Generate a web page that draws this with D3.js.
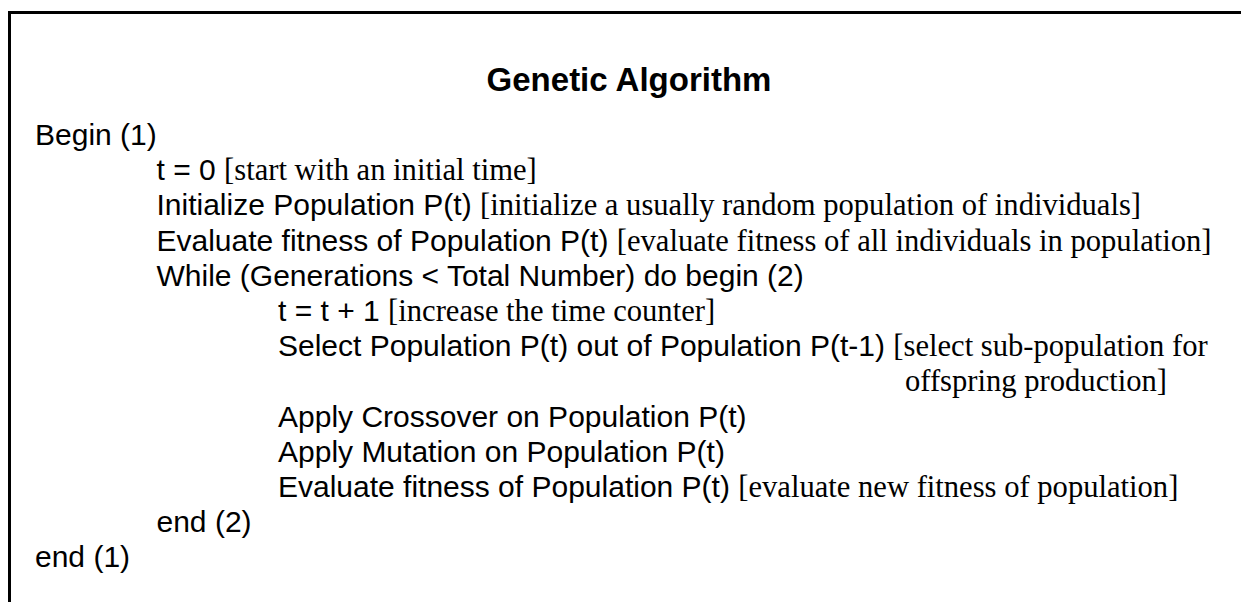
<!DOCTYPE html>
<html>
<head>
<meta charset="utf-8">
<script src="https://cdn.jsdelivr.net/npm/d3@7"></script>
<style>
html,body{margin:0;padding:0;background:#fff;}
svg{display:block;}
</style>
</head>
<body>
<svg id="chart" width="1241" height="602"></svg>
<script>
const title = "Genetic Algorithm";
const codeParts = [
  "Begin (1)",
  "t = 0 ",
  "Initialize Population P(t) ",
  "Evaluate fitness of Population P(t) ",
  "While (Generations < Total Number) do begin (2)",
  "t = t + 1 ",
  "Select Population P(t) out of Population P(t-1) ",
  "",
  "Apply Crossover on Population P(t)",
  "Apply Mutation on Population P(t)",
  "Evaluate fitness of Population P(t) ",
  "end (2)",
  "end (1)"
];
const commentParts = [
  "",
  "[start with an initial time]",
  "[initialize a usually random population of individuals]",
  "[evaluate fitness of all individuals in population]",
  "",
  "[increase the time counter]",
  "[select sub-population for",
  "offspring production]",
  "",
  "",
  "[evaluate new fitness of population]",
  "",
  ""
];
const indentLevels = [0, 1, 1, 1, 1, 2, 2, 2, 2, 2, 2, 1, 0];

const svg = d3.select("#chart");
const W = 1241, H = 602;

// frame (box continues past the right and bottom edges)
svg.append("rect")
  .attr("x", 9.5).attr("y", 12.5)
  .attr("width", W + 20).attr("height", H + 20)
  .attr("fill", "none").attr("stroke", "#000").attr("stroke-width", 3);

svg.append("text")
  .attr("x", 629).attr("y", 91)
  .attr("text-anchor", "middle")
  .attr("font-family", "'Liberation Sans', Arial, sans-serif")
  .attr("font-weight", "bold")
  .attr("font-size", 33)
  .attr("fill", "#000")
  .text(title);

const y = d3.scaleLinear().domain([0, codeParts.length - 1]).range([145, 567.4]);
const x = d3.scaleLinear().domain([0, 2]).range([35, 278]);

const rows = svg.selectAll("text.row")
  .data(codeParts.map((c, i) => ({code: c, comment: commentParts[i], level: indentLevels[i], i})))
  .enter().append("text")
  .attr("class", "row")
  .attr("x", d => d.code === "" ? 905 : x(d.level))
  .attr("y", d => y(d.i))
  .attr("fill", "#000")
  .attr("xml:space", "preserve")
  .style("white-space", "pre");

rows.append("tspan")
  .attr("font-family", "'Liberation Sans', Arial, sans-serif")
  .attr("font-size", 30)
  .text(d => d.code);
rows.append("tspan")
  .attr("font-family", "'Liberation Serif', 'Times New Roman', serif")
  .attr("font-size", 30.6)
  .text(d => d.comment);
</script>
</body>
</html>
